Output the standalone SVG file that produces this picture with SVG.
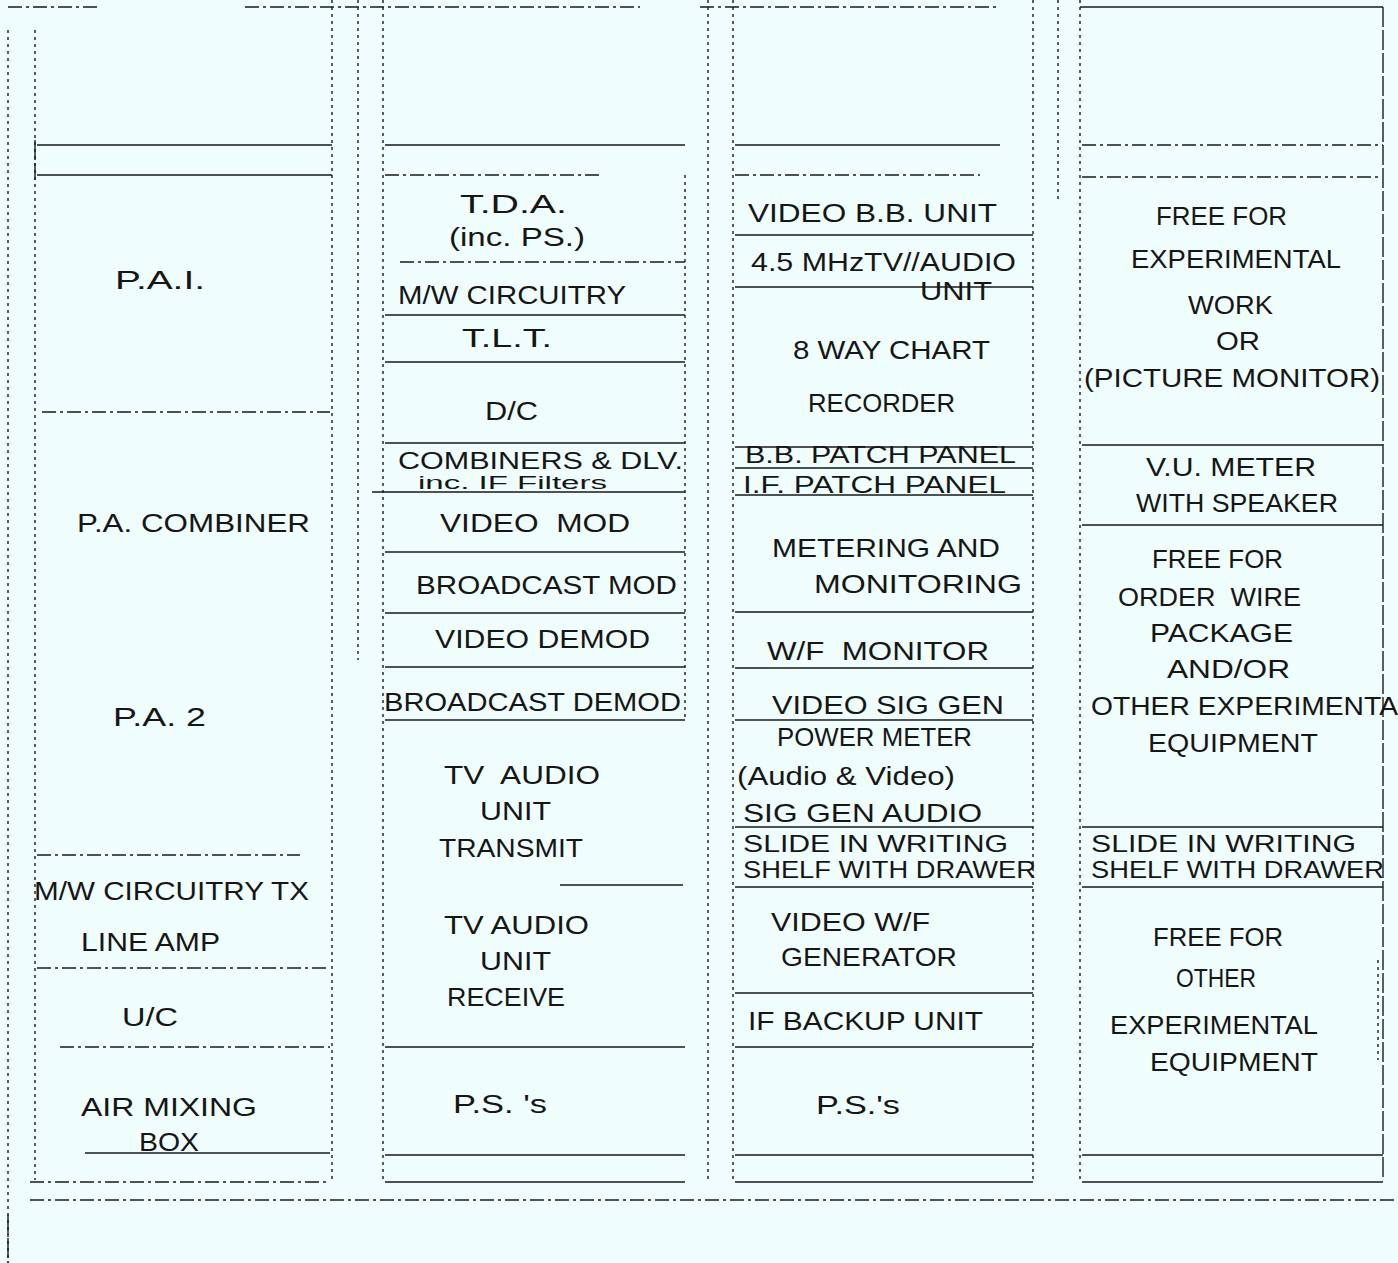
<svg xmlns="http://www.w3.org/2000/svg" width="1398" height="1263" viewBox="0 0 1398 1263">
<style>
.t{font-family:"Liberation Sans","DejaVu Sans",Arial,sans-serif;font-size:26px;fill:#161616}
.s{font-size:18px}
.m{font-size:24px}
.h{stroke:#1a1a1a;stroke-width:1.6;fill:none}
.hd{stroke:#1a1a1a;stroke-width:1.4;fill:none;stroke-dasharray:14 4 3 4}
.v{stroke:#1a1a1a;stroke-width:1.4;fill:none;stroke-dasharray:3 4}
.vs{stroke:#1a1a1a;stroke-width:1.4;fill:none;stroke-dasharray:20 3}
</style>
<rect width="1398" height="1263" fill="#effdfd"/>
<g id="frame">
  <path class="hd" d="M8 7H100 M245 7H640 M700 7H1000"/>
  <path class="h" d="M1080 7H1383"/>
  <path class="v" d="M8 30V1263 M35 30V1180 M332 0V1180 M358 0V660 M383 0V1180 M685 175V720 M708 0V1180 M733 0V1180 M1033 0V1180 M1058 0V200 M1080 0V1180 M1378 960V1060"/>
  <path class="vs" d="M1383 7V1180 M35 140V180 M8 1215V1263"/>
  <path class="h" d="M37 145H332 M37 175H332"/>
  <path class="hd" d="M42 412H330 M37 855H300 M37 968H330 M60 1047H330 M30 1182H330 M30 1200H1398"/>
  <path class="h" d="M85 1153H330"/>
  <path class="h" d="M385 145H685 M385 315H685 M385 362H685 M385 443H685 M372 492H685 M385 552H685 M385 613H685 M385 667H685 M385 720H685 M560 885H683 M385 1047H685 M385 1155H685 M385 1182H685"/>
  <path class="hd" d="M385 175H600 M400 262H685"/>
  <path class="h" d="M735 145H1000 M735 235H1033 M735 287H1033 M735 447H1033 M735 468H1033 M735 495H1033 M735 612H1033 M735 668H1033 M735 720H1033 M735 827H1033 M735 887H1033 M735 993H1033 M735 1047H1033 M735 1155H1033 M735 1182H1033"/>
  <path class="hd" d="M735 175H980"/>
  <path class="hd" d="M1082 145H1383 M1082 177H1380"/>
  <path class="h" d="M1082 445H1383 M1082 525H1383 M1082 827H1383 M1082 887H1383 M1082 1155H1383 M1082 1182H1383"/>
</g>
<g id="col1">
  <g id="pai"><text class="t" x="115" y="289" textLength="90" lengthAdjust="spacingAndGlyphs">P.A.I.</text></g>
  <g id="pa-combiner"><text class="t" x="77" y="532" textLength="233" lengthAdjust="spacingAndGlyphs">P.A. COMBINER</text></g>
  <g id="pa2"><text class="t" x="113" y="726" textLength="93" lengthAdjust="spacingAndGlyphs">P.A. 2</text></g>
  <g id="mw-tx"><text class="t" x="34" y="900" textLength="275" lengthAdjust="spacingAndGlyphs">M/W CIRCUITRY TX</text></g>
  <g id="line-amp"><text class="t" x="81" y="951" textLength="139" lengthAdjust="spacingAndGlyphs">LINE AMP</text></g>
  <g id="uc"><text class="t" x="122" y="1026" textLength="56" lengthAdjust="spacingAndGlyphs">U/C</text></g>
  <g id="air-mixing"><text class="t" x="81" y="1116" textLength="176" lengthAdjust="spacingAndGlyphs">AIR MIXING</text>
  <text class="t" x="139" y="1151" textLength="60" lengthAdjust="spacingAndGlyphs">BOX</text></g>
</g>
<g id="col2">
  <g id="tda"><text class="t" x="460" y="213" textLength="107" lengthAdjust="spacingAndGlyphs">T.D.A.</text>
  <text class="t" x="449" y="246" textLength="136" lengthAdjust="spacingAndGlyphs">(inc. PS.)</text></g>
  <g id="mw"><text class="t" x="398" y="304" textLength="228" lengthAdjust="spacingAndGlyphs">M/W CIRCUITRY</text></g>
  <g id="tlt"><text class="t" x="462" y="347" textLength="90" lengthAdjust="spacingAndGlyphs">T.L.T.</text></g>
  <g id="dc"><text class="t" x="485" y="420" textLength="53" lengthAdjust="spacingAndGlyphs">D/C</text></g>
  <g id="combiners"><text class="t m" x="398" y="469" textLength="285" lengthAdjust="spacingAndGlyphs">COMBINERS &amp; DLV.</text>
  <text class="t s" x="418" y="489" textLength="189" lengthAdjust="spacingAndGlyphs">inc. IF Filters</text></g>
  <g id="video-mod"><text class="t" x="440" y="532" textLength="190" lengthAdjust="spacingAndGlyphs" xml:space="preserve">VIDEO  MOD</text></g>
  <g id="bc-mod"><text class="t" x="416" y="594" textLength="261" lengthAdjust="spacingAndGlyphs">BROADCAST MOD</text></g>
  <g id="video-demod"><text class="t" x="435" y="648" textLength="215" lengthAdjust="spacingAndGlyphs">VIDEO DEMOD</text></g>
  <g id="bc-demod"><text class="t" x="384" y="711" textLength="297" lengthAdjust="spacingAndGlyphs">BROADCAST DEMOD</text></g>
  <g id="tv-tx"><text class="t" x="444" y="784" textLength="156" lengthAdjust="spacingAndGlyphs" xml:space="preserve">TV  AUDIO</text>
  <text class="t" x="480" y="820" textLength="71" lengthAdjust="spacingAndGlyphs">UNIT</text>
  <text class="t" x="439" y="857" textLength="144" lengthAdjust="spacingAndGlyphs">TRANSMIT</text></g>
  <g id="tv-rx"><text class="t" x="444" y="934" textLength="145" lengthAdjust="spacingAndGlyphs">TV AUDIO</text>
  <text class="t" x="480" y="970" textLength="71" lengthAdjust="spacingAndGlyphs">UNIT</text>
  <text class="t" x="447" y="1006" textLength="118" lengthAdjust="spacingAndGlyphs">RECEIVE</text></g>
  <g id="ps2"><text class="t" x="453" y="1113" textLength="94" lengthAdjust="spacingAndGlyphs">P.S. 's</text></g>
</g>
<g id="col3">
  <g id="video-bb"><text class="t" x="748" y="222" textLength="249" lengthAdjust="spacingAndGlyphs">VIDEO B.B. UNIT</text></g>
  <g id="tv-audio-45"><text class="t" x="751" y="271" textLength="265" lengthAdjust="spacingAndGlyphs">4.5 MHzTV//AUDIO</text>
  <text class="t" x="920" y="300" textLength="72" lengthAdjust="spacingAndGlyphs">UNIT</text></g>
  <g id="chart"><text class="t" x="793" y="359" textLength="197" lengthAdjust="spacingAndGlyphs">8 WAY CHART</text>
  <text class="t" x="808" y="412" textLength="147" lengthAdjust="spacingAndGlyphs">RECORDER</text></g>
  <g id="bb-patch"><text class="t m" x="745" y="463" textLength="271" lengthAdjust="spacingAndGlyphs">B.B. PATCH PANEL</text></g>
  <g id="if-patch"><text class="t m" x="743" y="493" textLength="263" lengthAdjust="spacingAndGlyphs">I.F. PATCH PANEL</text></g>
  <g id="metering"><text class="t" x="772" y="557" textLength="228" lengthAdjust="spacingAndGlyphs">METERING AND</text>
  <text class="t" x="814" y="593" textLength="208" lengthAdjust="spacingAndGlyphs">MONITORING</text></g>
  <g id="wf-mon"><text class="t" x="767" y="660" textLength="222" lengthAdjust="spacingAndGlyphs" xml:space="preserve">W/F  MONITOR</text></g>
  <g id="vsg"><text class="t" x="772" y="714" textLength="232" lengthAdjust="spacingAndGlyphs">VIDEO SIG GEN</text></g>
  <g id="power"><text class="t" x="777" y="746" textLength="195" lengthAdjust="spacingAndGlyphs">POWER METER</text>
  <text class="t" x="737" y="785" textLength="218" lengthAdjust="spacingAndGlyphs">(Audio &amp; Video)</text></g>
  <g id="sga"><text class="t" x="743" y="822" textLength="239" lengthAdjust="spacingAndGlyphs">SIG GEN AUDIO</text></g>
  <g id="shelf3"><text class="t m" x="743" y="852" textLength="265" lengthAdjust="spacingAndGlyphs">SLIDE IN WRITING</text>
  <text class="t m" x="743" y="878" textLength="293" lengthAdjust="spacingAndGlyphs">SHELF WITH DRAWER</text></g>
  <g id="vwf"><text class="t" x="771" y="931" textLength="159" lengthAdjust="spacingAndGlyphs">VIDEO W/F</text>
  <text class="t" x="781" y="966" textLength="176" lengthAdjust="spacingAndGlyphs">GENERATOR</text></g>
  <g id="if-backup"><text class="t" x="748" y="1030" textLength="235" lengthAdjust="spacingAndGlyphs">IF BACKUP UNIT</text></g>
  <g id="ps3"><text class="t" x="816" y="1114" textLength="84" lengthAdjust="spacingAndGlyphs">P.S.'s</text></g>
</g>
<g id="col4">
  <g id="free1"><text class="t" x="1156" y="225" textLength="131" lengthAdjust="spacingAndGlyphs">FREE FOR</text>
  <text class="t" x="1131" y="268" textLength="210" lengthAdjust="spacingAndGlyphs">EXPERIMENTAL</text>
  <text class="t" x="1188" y="314" textLength="85" lengthAdjust="spacingAndGlyphs">WORK</text>
  <text class="t" x="1216" y="350" textLength="44" lengthAdjust="spacingAndGlyphs">OR</text>
  <text class="t" x="1084" y="387" textLength="296" lengthAdjust="spacingAndGlyphs">(PICTURE MONITOR)</text></g>
  <g id="vu"><text class="t" x="1146" y="476" textLength="170" lengthAdjust="spacingAndGlyphs">V.U. METER</text>
  <text class="t" x="1136" y="512" textLength="202" lengthAdjust="spacingAndGlyphs">WITH SPEAKER</text></g>
  <g id="free2"><text class="t" x="1152" y="568" textLength="131" lengthAdjust="spacingAndGlyphs">FREE FOR</text>
  <text class="t" x="1118" y="606" textLength="183" lengthAdjust="spacingAndGlyphs" xml:space="preserve">ORDER  WIRE</text>
  <text class="t" x="1150" y="642" textLength="143" lengthAdjust="spacingAndGlyphs">PACKAGE</text>
  <text class="t" x="1167" y="678" textLength="123" lengthAdjust="spacingAndGlyphs">AND/OR</text>
  <text class="t" x="1091" y="715" textLength="307" lengthAdjust="spacingAndGlyphs">OTHER EXPERIMENTA</text>
  <text class="t" x="1148" y="752" textLength="170" lengthAdjust="spacingAndGlyphs">EQUIPMENT</text></g>
  <g id="shelf4"><text class="t m" x="1091" y="852" textLength="265" lengthAdjust="spacingAndGlyphs">SLIDE IN WRITING</text>
  <text class="t m" x="1091" y="878" textLength="293" lengthAdjust="spacingAndGlyphs">SHELF WITH DRAWER</text></g>
  <g id="free3"><text class="t" x="1153" y="946" textLength="130" lengthAdjust="spacingAndGlyphs">FREE FOR</text>
  <text class="t" x="1176" y="987" textLength="80" lengthAdjust="spacingAndGlyphs">OTHER</text>
  <text class="t" x="1110" y="1034" textLength="208" lengthAdjust="spacingAndGlyphs">EXPERIMENTAL</text>
  <text class="t" x="1150" y="1071" textLength="168" lengthAdjust="spacingAndGlyphs">EQUIPMENT</text></g>
</g>
</svg>
